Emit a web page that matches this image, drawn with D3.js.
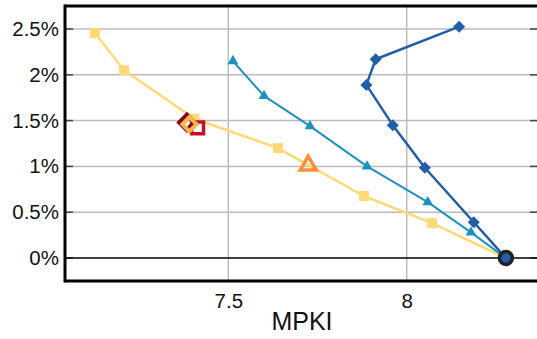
<!DOCTYPE html>
<html><head><meta charset="utf-8">
<script src="https://cdn.jsdelivr.net/npm/d3@7"></script>
<style>body{margin:0;background:#fff}svg{display:block}text{font-family:"Liberation Sans",Arial,sans-serif;fill:#111}</style>
</head><body>
<script>
const xTicks=[7.5,8];
const yTicks=[0,0.5,1,1.5,2,2.5];
const yellowX=[7.126,7.208,7.405,7.639,7.880,8.071,8.278];
const yellowY=[2.456,2.05,1.52,1.20,0.677,0.38,0];
const tealX=[7.513,7.600,7.729,7.889,8.059,8.180,8.278];
const tealY=[2.15,1.77,1.44,1.00,0.61,0.28,0];
const navyX=[8.147,7.913,7.887,7.961,8.051,8.188,8.278];
const navyY=[2.525,2.17,1.89,1.45,0.985,0.39,0];
const baseX=[8.278], baseY=[0];
const orangeTriX=[7.724], orangeTriY=[1.01];
const redSqX=[7.414], redSqY=[1.42];
const darkDiaX=[7.384], darkDiaY=[1.48];
const orangeDiaX=[7.391], orangeDiaY=[1.46];

const W=537,H=339,L=65,R=538,T=6,B=281;
const svg=d3.select("body").append("svg").attr("width",W).attr("height",H);
const x=d3.scaleLinear().domain([7.5,8]).range([228.3,406.7]);
const y=d3.scaleLinear().domain([0,2.5]).range([258,29]);

// gridlines
svg.append("g").selectAll("line").data(yTicks.filter(d=>d>0)).join("line")
 .attr("x1",L).attr("x2",R).attr("y1",d=>y(d)).attr("y2",d=>y(d))
 .attr("stroke","#bbbbbb").attr("stroke-width",1.5);
svg.append("g").selectAll("line").data(xTicks).join("line")
 .attr("x1",d=>x(d)).attr("x2",d=>x(d)).attr("y1",T).attr("y2",B)
 .attr("stroke","#bbbbbb").attr("stroke-width",1.5);
// inward ticks
svg.append("g").selectAll("line").data(yTicks).join("line")
 .attr("x1",L).attr("x2",L+8).attr("y1",d=>y(d)).attr("y2",d=>y(d))
 .attr("stroke","#444").attr("stroke-width",1.5);
svg.append("g").selectAll("line").data(yTicks).join("line")
 .attr("x1",R-8).attr("x2",R).attr("y1",d=>y(d)).attr("y2",d=>y(d))
 .attr("stroke","#444").attr("stroke-width",1.5);
// zero line
svg.append("line").attr("x1",L).attr("x2",R).attr("y1",y(0)).attr("y2",y(0))
 .attr("stroke","#000").attr("stroke-width",1.5);

// axes via d3
const ya=svg.append("g").attr("transform",`translate(${L},0)`)
 .call(d3.axisLeft(y).tickValues(yTicks).tickFormat(d=>d+"%").tickSize(0).tickPadding(6));
ya.select(".domain").remove();
ya.selectAll("text").attr("font-size","20.5px").attr("fill","#111").attr("font-family","Liberation Sans, Arial, sans-serif");
const xa=svg.append("g").attr("transform",`translate(0,${B})`)
 .call(d3.axisBottom(x).tickValues(xTicks).tickFormat(d3.format("")).tickSize(0).tickPadding(12));
xa.select(".domain").remove();
xa.selectAll("text").attr("font-size","20.5px").attr("fill","#111").attr("font-family","Liberation Sans, Arial, sans-serif");

// frame
svg.append("line").attr("x1",L).attr("x2",R).attr("y1",T).attr("y2",T).attr("stroke","#000").attr("stroke-width",3);
svg.append("line").attr("x1",L).attr("x2",R).attr("y1",B).attr("y2",B).attr("stroke","#000").attr("stroke-width",3);
svg.append("line").attr("x1",L).attr("x2",L).attr("y1",T-1.5).attr("y2",B+1.5).attr("stroke","#000").attr("stroke-width",3);

svg.append("text").attr("x",302).attr("y",329.5).attr("text-anchor","middle").attr("font-size","25px").text("MPKI");

const line=d3.line().x(d=>x(d[0])).y(d=>y(d[1]));
function series(xs,ys,color,sym,size,lw,rot){
  const pts=xs.map((v,i)=>[v,ys[i]]);
  svg.append("path").datum(pts).attr("d",line).attr("fill","none").attr("stroke",color).attr("stroke-width",lw).attr("stroke-linejoin","round");
  svg.append("g").selectAll("path").data(pts.slice(0,-1)).join("path")
   .attr("transform",d=>`translate(${x(d[0])},${y(d[1])}) rotate(${rot||0})`)
   .attr("d",d3.symbol().type(sym).size(size)).attr("fill",color);
}
series(yellowX,yellowY,"#fed976",d3.symbolSquare,100,2.5);
series(tealX,tealY,"#1d91c0",d3.symbolTriangle,50,2);
series(navyX,navyY,"#225ea8",d3.symbolSquare,72,2.5,45);

// single markers
const pt=(xs,ys)=>xs.map((v,i)=>[v,ys[i]]);
svg.append("g").selectAll("path").data(pt(redSqX,redSqY)).join("path")
 .attr("transform",d=>`translate(${x(d[0])},${y(d[1])})`)
 .attr("d",d3.symbol().type(d3.symbolSquare).size(140)).attr("fill","none").attr("stroke","#c4102b").attr("stroke-width",3.5);
svg.append("g").selectAll("path").data(pt(darkDiaX,darkDiaY)).join("path")
 .attr("transform",d=>`translate(${x(d[0])},${y(d[1])}) rotate(45)`)
 .attr("d",d3.symbol().type(d3.symbolSquare).size(110)).attr("fill","none").attr("stroke","#800026").attr("stroke-width",4.5);
svg.append("g").selectAll("path").data(pt(orangeDiaX,orangeDiaY)).join("path")
 .attr("transform",d=>`translate(${x(d[0])},${y(d[1])}) rotate(45)`)
 .attr("d",d3.symbol().type(d3.symbolSquare).size(100)).attr("fill","none").attr("stroke","#feb24c").attr("stroke-width",4);
svg.append("g").selectAll("path").data(pt(orangeTriX,orangeTriY)).join("path")
 .attr("transform",d=>`translate(${x(d[0])},${y(d[1])})`)
 .attr("d",d3.symbol().type(d3.symbolTriangle).size(110)).attr("fill","none").attr("stroke","#fd8d3c").attr("stroke-width",3.5);
svg.append("g").selectAll("circle").data(pt(baseX,baseY)).join("circle")
 .attr("cx",d=>x(d[0])).attr("cy",d=>y(d[1])).attr("r",6.5)
 .attr("fill","#225ea8").attr("stroke","#222").attr("stroke-width",3.5);
</script>
</body></html>
